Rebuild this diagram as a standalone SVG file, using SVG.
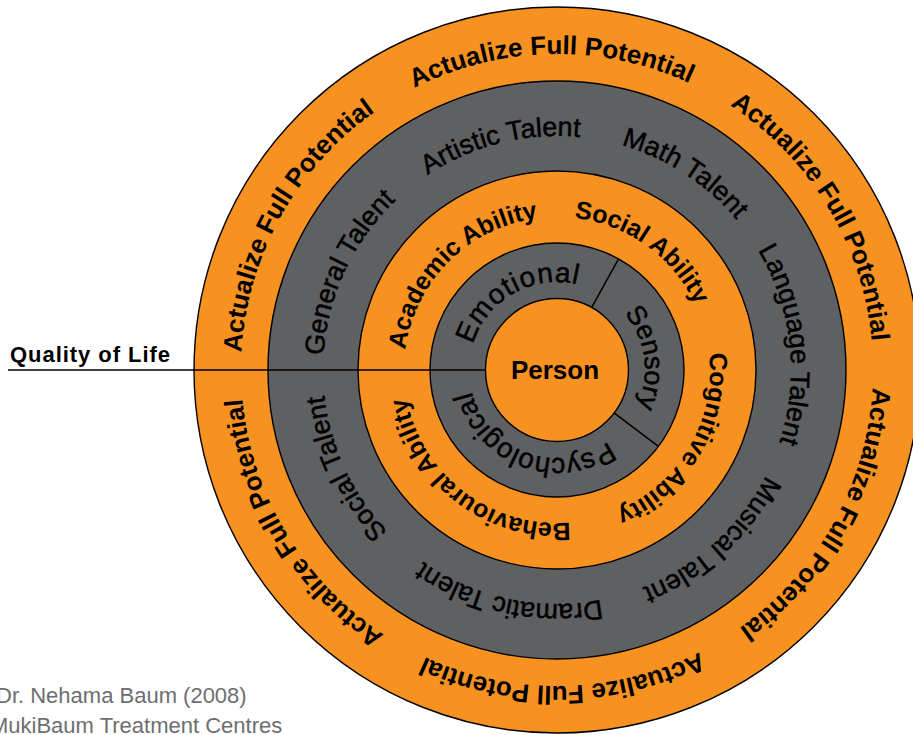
<svg xmlns="http://www.w3.org/2000/svg" width="913" height="735" viewBox="0 0 913 735">
<style>
.ring{stroke:#000;stroke-width:1.4}
.or{fill:#F7911F}
.gr{fill:#5F6062}
.b{font-family:"Liberation Sans",Arial,sans-serif;font-weight:bold;fill:#000}
.r{font-family:"Liberation Sans",Arial,sans-serif;font-weight:normal;fill:#000;stroke:#000;stroke-width:0.5}
.ln{stroke:#000;stroke-width:1.5;fill:none}
.credit{font-family:"Liberation Sans",Arial,sans-serif;font-size:22px;fill:#6D6E71}
</style>
<defs>
<path id="p1" d="M 873,370 A 316 316 0 1 1 241,370 A 316 316 0 1 1 873,370 A 316 316 0 1 1 241,370 A 316 316 0 1 1 873,370"/>
<path id="p2" d="M 791,370 A 234 234 0 1 1 323,370 A 234 234 0 1 1 791,370 A 234 234 0 1 1 323,370 A 234 234 0 1 1 791,370"/>
<path id="p3" d="M 710,370 A 153 153 0 1 1 404,370 A 153 153 0 1 1 710,370 A 153 153 0 1 1 404,370 A 153 153 0 1 1 710,370"/>
<path id="p4" d="M 645,370 A 88 88 0 1 1 469,370 A 88 88 0 1 1 645,370 A 88 88 0 1 1 469,370 A 88 88 0 1 1 645,370"/>
</defs>
<rect width="913" height="735" fill="#fff"/>

<g id="ring-potential">
<circle class="ring or" cx="557" cy="370" r="363"/>
<text class="b" font-size="26" text-anchor="middle"><textPath href="#p1" startOffset="29.028%">Actualize Full Potential</textPath></text>
<text class="b" font-size="26" text-anchor="middle"><textPath href="#p1" startOffset="37.361%">Actualize Full Potential</textPath></text>
<text class="b" font-size="26" text-anchor="middle"><textPath href="#p1" startOffset="45.694%">Actualize Full Potential</textPath></text>
<text class="b" font-size="26" text-anchor="middle"><textPath href="#p1" startOffset="54.028%">Actualize Full Potential</textPath></text>
<text class="b" font-size="26" text-anchor="middle"><textPath href="#p1" startOffset="12.361%">Actualize Full Potential</textPath></text>
<text class="b" font-size="26" text-anchor="middle"><textPath href="#p1" startOffset="20.694%">Actualize Full Potential</textPath></text>
</g>

<g id="ring-talent">
<circle class="ring gr" cx="557" cy="370" r="289"/>
<text class="r" font-size="27" text-anchor="middle"><textPath href="#p2" startOffset="21.528%">Social Talent</textPath></text>
<text class="r" font-size="27" text-anchor="middle"><textPath href="#p2" startOffset="28.472%">General Talent</textPath></text>
<text class="r" font-size="27" text-anchor="middle"><textPath href="#p2" startOffset="35.556%">Artistic Talent</textPath></text>
<text class="r" font-size="27" text-anchor="middle"><textPath href="#p2" startOffset="42.083%">Math Talent</textPath></text>
<text class="r" font-size="27" text-anchor="middle"><textPath href="#p2" startOffset="49.111%">Language Talent</textPath></text>
<text class="r" font-size="27" text-anchor="middle"><textPath href="#p2" startOffset="6.625%">Musical Talent</textPath></text>
<text class="r" font-size="27" text-anchor="middle"><textPath href="#p2" startOffset="14.167%">Dramatic Talent</textPath></text>
</g>

<g id="ring-ability">
<circle class="ring or" cx="557" cy="370" r="199"/>
<text class="b" font-size="25" text-anchor="middle"><textPath href="#p3" startOffset="31.278%">Academic Ability</textPath></text>
<text class="b" font-size="25" text-anchor="middle"><textPath href="#p3" startOffset="42.458%">Social Ability</textPath></text>
<text class="b" font-size="25" text-anchor="middle"><textPath href="#p3" startOffset="54.229%">Cognitive Ability</textPath></text>
<text class="b" font-size="25" text-anchor="middle"><textPath href="#p3" startOffset="17.674%">Behavioural Ability</textPath></text>
</g>

<g id="ring-self">
<circle class="ring gr" cx="557" cy="370" r="127"/>
<text class="r" font-size="28" text-anchor="middle" letter-spacing="1"><textPath href="#p4" startOffset="33.389%">Emotional</textPath></text>
<text class="r" font-size="27" text-anchor="middle"><textPath href="#p4" startOffset="48.903%">Sensory</textPath></text>
<text class="r" font-size="28" text-anchor="middle"><textPath href="#p4" startOffset="15.278%">Psychological</textPath></text>
</g>

<g id="connectors">
<line class="ln" x1="8" y1="370" x2="486" y2="370"/>
<line class="ln" x1="591.4" y1="307.9" x2="618.6" y2="258.9"/>
<line class="ln" x1="613.7" y1="412.7" x2="658.4" y2="446.4"/>
</g>

<g id="person">
<circle class="ring or" cx="557" cy="370" r="71.5"/>
<text class="b" font-size="26" x="555" y="379" text-anchor="middle">Person</text>
</g>

<g id="quality-of-life">
<text class="b" font-size="22" x="10" y="362" textLength="160" lengthAdjust="spacing">Quality of Life</text>
</g>

<g id="credit">
<text class="credit" x="-4" y="703">Dr. Nehama Baum (2008)</text>
<text class="credit" x="-10" y="733">MukiBaum Treatment Centres</text>
</g>
</svg>
